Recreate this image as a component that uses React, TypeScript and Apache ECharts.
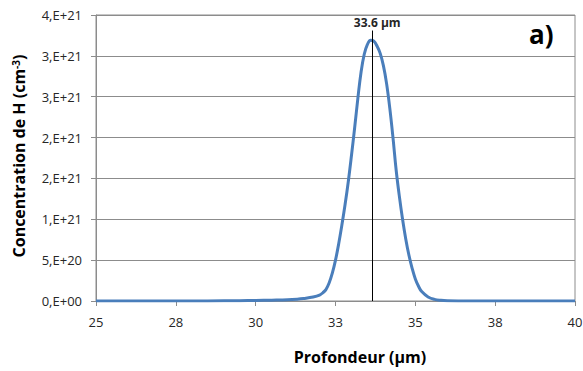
import React, { useEffect, useRef } from "react";
import * as echarts from "echarts";

const depthUm = [
  25.0, 26.0, 27.0, 28.0, 29.0, 29.5, 30.0, 30.5, 31.0, 31.3, 31.5, 31.8, 32.0, 32.1, 32.2, 32.3,
  32.4, 32.5, 32.6, 32.7, 32.8, 32.9, 33.0, 33.1, 33.2, 33.3, 33.4, 33.5, 33.6, 33.7, 33.8, 33.9,
  34.0, 34.1, 34.2, 34.3, 34.4, 34.5, 34.6, 34.7, 34.8, 34.9, 35.0, 35.1, 35.2, 35.4, 35.6, 35.8,
  36.0, 36.5, 37.0, 38.0, 39.0, 40.0,
];
const hConcentration = [
  0, 0, 0, 0, 0.002e21, 0.004e21, 0.006e21, 0.01e21, 0.015e21, 0.022e21, 0.03e21, 0.048e21,
  0.072e21, 0.1e21, 0.14e21, 0.22e21, 0.34e21, 0.5e21, 0.7e21, 0.93e21, 1.18e21, 1.46e21, 1.78e21,
  2.12e21, 2.48e21, 2.8e21, 3.02e21, 3.14e21, 3.19e21, 3.18e21, 3.12e21, 3.03e21, 2.88e21, 2.66e21,
  2.36e21, 2.0e21, 1.6e21, 1.28e21, 1.0e21, 0.76e21, 0.56e21, 0.4e21, 0.27e21, 0.18e21, 0.115e21,
  0.05e21, 0.02e21, 0.008e21, 0.003e21, 0.001e21, 0, 0, 0, 0,
];
const xTickLabels = ["25", "28", "30", "33", "35", "38", "40"];
const yTickLabels = ["0,E+00", "5,E+20", "1,E+21", "2,E+21", "2,E+21", "3,E+21", "3,E+21", "4,E+21"];
const peakDepth = 33.65;
const peakLineTop = 3.31e21;
const peakLabel = "33.6 µm";
const panelLabel = "a)";
const xTitle = "Profondeur (µm)";
const yTitle = "Concentration de H (cm{sup|-3})";

export default function App() {
  const ref = useRef<HTMLDivElement>(null);
  useEffect(() => {
    if (!ref.current) return;
    const chart = echarts.init(ref.current, undefined, { renderer: "svg" });
    const font = "'Open Sans', 'Noto Sans', sans-serif";
    chart.setOption({
      animation: false,
      textStyle: { fontFamily: font },
      grid: {
        left: 96,
        right: 8,
        top: 15,
        bottom: 70,
        show: true,
        borderColor: "#8c8c8c",
        borderWidth: 1,
        outerBoundsMode: "none",
        containLabel: false,
      },
      graphic: [
        {
          type: "text",
          left: 529,
          top: 21,
          style: {
            text: panelLabel,
            font: `bold 26px ${font}`,
            fill: "#000",
          },
        },
        {
          type: "text",
          x: 360,
          y: 357,
          style: {
            text: xTitle,
            font: `bold 16px ${font}`,
            fill: "#000",
            align: "center",
            verticalAlign: "middle",
          },
        },
        {
          type: "text",
          x: 19,
          y: 156,
          rotation: Math.PI / 2,
          style: {
            text: yTitle,
            font: `bold 16px ${font}`,
            fill: "#000",
            align: "center",
            verticalAlign: "middle",
            rich: {
              sup: { font: `bold 10px ${font}`, fill: "#000", verticalAlign: "top", padding: [0, 0, 7, 0] },
            },
          },
        },
      ],
      xAxis: {
        type: "value",
        min: 25,
        max: 40,
        interval: 2.5,
        axisLine: { show: true, lineStyle: { color: "#8c8c8c" } },
        axisTick: { show: true, length: 5, lineStyle: { color: "#8c8c8c" } },
        axisLabel: {
          margin: 14,
          fontSize: 13,
          color: "#262626",
          fontFamily: font,
          formatter: (_v: number, i: number) => xTickLabels[i] ?? "",
        },
        splitLine: { show: false },
      },
      yAxis: {
        type: "value",
        min: 0,
        max: 3.5e21,
        interval: 5e20,
        axisLine: { show: true, lineStyle: { color: "#8c8c8c" } },
        axisTick: { show: true, length: 5, lineStyle: { color: "#8c8c8c" } },
        axisLabel: {
          margin: 14,
          fontSize: 13,
          color: "#262626",
          fontFamily: font,
          formatter: (_v: number, i: number) => yTickLabels[i] ?? "",
        },
        splitLine: { show: true, lineStyle: { color: "#8c8c8c", width: 1 } },
      },
      series: [
        {
          type: "line",
          data: depthUm.map((d, i) => [d, hConcentration[i]]),
          showSymbol: false,
          smooth: 0.4,
          lineStyle: { color: "#4a7ebb", width: 3 },
          itemStyle: { color: "#4a7ebb" },
          z: 3,
          markLine: {
            silent: true,
            symbol: "none",
            lineStyle: { color: "#000", width: 1, type: "solid" },
            label: {
              show: true,
              position: "end",
              formatter: peakLabel,
              fontSize: 12,
              fontWeight: "bold",
              color: "#262626",
              fontFamily: font,
              distance: 2,
              offset: [5, 0],
            },
            data: [[{ coord: [peakDepth, 0] }, { coord: [peakDepth, peakLineTop] }]],
          },
        },
      ],
    });
    return () => chart.dispose();
  }, []);
  return (
    <div
      ref={ref}
      style={{ position: "fixed", left: 0, top: 0, width: 583, height: 371, background: "#fff" }}
    />
  );
}
